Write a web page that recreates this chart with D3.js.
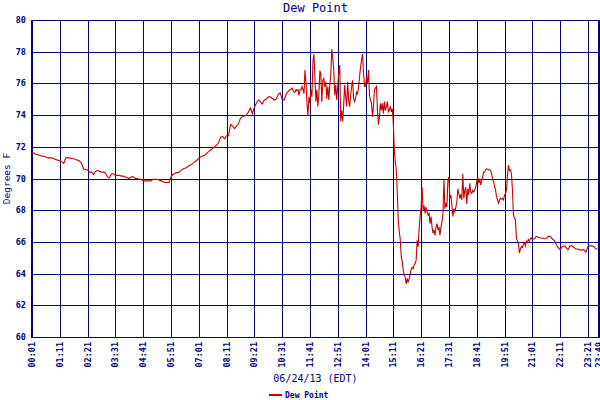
<!DOCTYPE html>
<html>
<head>
<meta charset="utf-8">
<title>Dew Point</title>
<script src="https://cdn.jsdelivr.net/npm/d3@7"></script>
<style>
  html, body { margin: 0; padding: 0; background: #fff; }
  svg text { font-family: 'DejaVu Sans Mono', monospace; fill: #000080; }
  .tick text { font-size: 8.5px; font-weight: bold; }
</style>
</head>
<body>
<svg id="chart" width="600" height="400"></svg>
<script>
// readings per hour slot (denser where the trace is noisy)
var readingsPerHour = [12,12,12,12,12,12,12,12,12,12,12, 24,24,24,24,24,24,24,24,24,24, 12,12,12];

// dew point (F), one row per hour, starting hh:01
var dewByHour = [
  [71.6,71.6,71.5,71.5,71.45,71.4,71.4,71.35,71.3,71.3,71.3,71.25],
  [71.2,71.15,71.1,71.05,70.95,71.3,71.3,71.3,71.25,71.25,71.2,71.15],
  [71.1,70.95,70.6,70.55,70.55,70.4,70.4,70.25,70.45,70.5,70.45,70.4],
  [70.4,70.35,70.1,70.05,70.3,70.3,70.2,70.2,70.2,70.15,70.15,70.1],
  [70.05,70.0,70.1,70.1,70.0,70.0,69.95,69.95,69.85,69.85,69.85,69.85],
  [69.85,69.95,69.95,69.95,69.9,69.85,69.8,69.75,69.75,69.75,70.1,70.25],
  [70.33,70.37,70.4,70.5,70.6,70.65,70.7,70.8,70.85,70.95,71.05,71.15],
  [71.27,71.38,71.42,71.46,71.6,71.7,71.8,71.9,72.0,72.1,72.25,72.6],
  [72.65,72.5,72.7,72.7,73.4,73.3,73.15,73.3,73.45,73.8,73.9,73.95],
  [74.0,74.2,74.45,74.1,74.5,74.75,74.95,74.85,74.7,74.95,75.0,75.15],
  [75.15,75.05,74.95,75.0,75.3,75.4,75.0,74.95,75.3,75.5,75.6,75.7],
  [75.45,75.45,75.6,75.55,75.6,75.25,75.6,75.6,75.8,75.6,75.35,76.85,76.1,74.75,74.0,75.15,74.75,75.6,75.15,77.35,77.85,76.4,74.85,75.6],
  [74.55,75.35,76.8,76.55,74.85,76.2,76.3,75.8,76.1,75.05,75.8,74.95,75.9,76.55,78.15,77.6,76.85,75.25,75.9,74.95,75.8,76.65,77.15,73.6],
  [74.3,73.6,74.65,75.9,75.15,74.55,76.1,74.95,74.55,75.25,75.8,76.2,75.05,74.85,75.05,75.45,75.35,75.8,76.4,77.05,77.45,77.85,76.6,75.8],
  [75.8,76.4,76.0,76.85,75.25,74.95,74.75,73.9,74.55,75.6,75.7,75.8,74.3,73.4,73.9,74.75,74.3,74.75,74.1,74.85,74.3,74.55,74.85,74.2],
  [74.3,74.55,74.2,74.4,73.45,71.8,71.05,70.55,69.05,67.35,66.65,66.15,65.05,64.75,64.2,63.9,63.75,63.35,63.7,63.45,63.7,63.95,64.3,64.4],
  [64.3,64.55,64.65,64.85,66.1,65.7,66.85,67.6,68.2,69.45,68.0,68.3,67.8,68.2,67.9,67.7,67.8,67.15,67.6,66.95,66.55,66.75,66.4,66.95],
  [67.15,66.75,66.95,66.4,66.95,67.25,67.8,69.9,68.1,68.4,68.2,69.9,70.1,68.75,68.95,68.3,67.6,68.1,67.9,68.2,68.55,69.35,69.05,68.75],
  [69.0,68.65,70.3,68.75,69.25,69.45,68.4,69.35,68.95,69.7,69.15,69.05,69.25,69.15,69.25,69.45,69.8,70.1,69.7,70.0,69.6,69.85,70.1,70.4],
  [70.4,70.55,70.6,70.6,70.55,70.55,70.5,70.3,69.95,69.8,69.5,69.25,68.85,68.65,68.45,68.65,68.75,68.7,68.75,68.65,68.95,69.05,69.25,70.2],
  [70.85,70.5,70.55,70.3,69.3,67.7,67.5,67.4,66.25,66.05,65.9,65.3,65.55,65.7,65.65,65.85,65.95,65.75,66.05,65.95,66.15,66.05,66.2,66.25],
  [66.15,66.2,66.35,66.3,66.25,66.25,66.2,66.2,66.35,66.35,66.2,66.1],
  [65.85,65.65,65.5,65.7,65.75,65.65,65.5,65.75,65.75,65.65,65.55,65.55],
  [65.5,65.5,65.5,65.35,65.7,65.75,65.75,65.7,65.55,65.55]
];

var yTicks = [60,62,64,66,68,70,72,74,76,78,80];
var xTickLabels = ["00:01","01:11","02:21","03:31","04:41","05:51","07:01","08:11","09:21","10:31",
                   "11:41","12:51","14:01","15:11","16:21","17:31","18:41","19:51","21:01","22:11","23:21","23:49"];

var chartTitle = "Dew Point",
    seriesName = "Dew Point",
    xTitle = "06/24/13 (EDT)",
    yTitle = "Degrees F";

var navy = "#000080",
    red = "#cc0000";

function toMinutes(s) {
  var p = s.split(":");
  return +p[0] * 60 + +p[1];
}

var points = [];
dewByHour.forEach(function(vals, h) {
  var step = 60 / readingsPerHour[h];
  vals.forEach(function(v, i) {
    points.push({ t: h * 60 + 1 + i * step, v: v });
  });
});

var plotL = 32, plotR = 599, plotT = 20, plotB = 337;
var tickMinutes = xTickLabels.map(toMinutes);

var x = d3.scaleLinear()
  .domain([tickMinutes[0], tickMinutes[tickMinutes.length - 1]])
  .range([plotL, plotR]);
var y = d3.scaleLinear().domain([60, 80]).range([plotB, plotT]);

// rounded copies so the 1px grid stays crisp
var xGrid = x.copy().interpolate(d3.interpolateRound);
var yGrid = y.copy().interpolate(d3.interpolateRound);

var svg = d3.select("#chart");

// y grid + labels
var yAxis = svg.append("g")
  .attr("transform", "translate(" + plotL + ",0)")
  .call(d3.axisLeft(yGrid).tickValues(yTicks).tickSize(-(plotR - plotL)).tickPadding(6));
yAxis.select(".domain").remove();
yAxis.selectAll(".tick line").attr("stroke", navy).attr("stroke-width", 1);

// x grid + rotated labels
var xAxis = svg.append("g")
  .attr("transform", "translate(0," + plotB + ")")
  .call(d3.axisBottom(xGrid).tickValues(tickMinutes).tickSize(-(plotB - plotT))
    .tickFormat(function(d, i) { return xTickLabels[i]; }));
xAxis.select(".domain").remove();
xAxis.selectAll(".tick line").attr("stroke", navy).attr("stroke-width", 1);
xAxis.selectAll(".tick text")
  .attr("transform", "rotate(-90)")
  .attr("text-anchor", "end")
  .attr("x", -5)
  .attr("y", 0)
  .attr("dy", "0.35em");

// frame
svg.append("line").attr("x1", plotL).attr("x2", plotL).attr("y1", plotT).attr("y2", plotB + 1)
  .attr("stroke", navy).attr("stroke-width", 2);
svg.append("line").attr("x1", plotR).attr("x2", plotR).attr("y1", plotT).attr("y2", plotB + 1)
  .attr("stroke", navy).attr("stroke-width", 2);

// series
var line = d3.line()
  .x(function(d) { return x(d.t); })
  .y(function(d) { return y(d.v); });

svg.append("path")
  .datum(points)
  .attr("fill", "none")
  .attr("stroke", red)
  .attr("stroke-width", 1.1)
  .attr("stroke-linejoin", "miter")
  .attr("d", line);

// titles
svg.append("text")
  .attr("x", (plotL + plotR) / 2).attr("y", 12)
  .attr("text-anchor", "middle")
  .style("font-size", "12px")
  .text(chartTitle);

svg.append("text")
  .attr("x", (plotL + plotR) / 2).attr("y", 382)
  .attr("text-anchor", "middle")
  .style("font-size", "10px")
  .text(xTitle);

svg.append("text")
  .attr("transform", "translate(10," + (plotT + plotB) / 2 + ") rotate(-90)")
  .attr("text-anchor", "middle")
  .style("font-size", "9.5px")
  .text(yTitle);

// legend
svg.append("line")
  .attr("x1", 269).attr("x2", 282).attr("y1", 395).attr("y2", 395)
  .attr("stroke", red).attr("stroke-width", 2);
svg.append("text")
  .attr("x", 285).attr("y", 398)
  .style("font-size", "8px").style("font-weight", "bold")
  .text(seriesName);
</script>
</body>
</html>
